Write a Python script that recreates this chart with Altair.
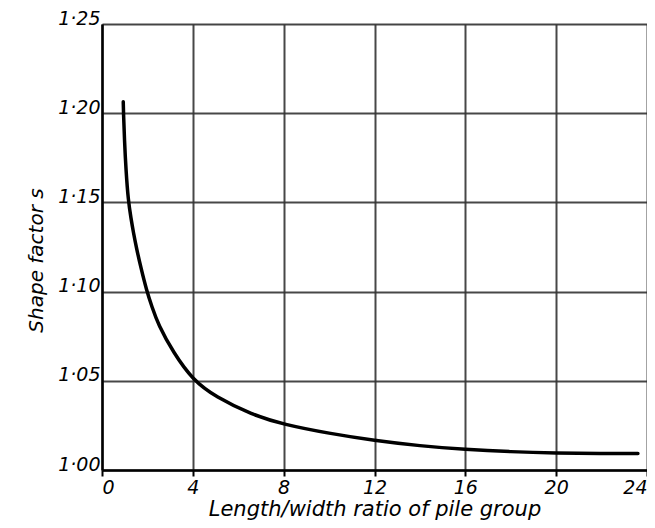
import altair as alt
import pandas as pd

# Curve
ratio = [0.936, 0.945, 0.989, 1.055, 1.156, 1.275, 1.385, 1.525, 1.714, 1.965, 2.198, 2.475,
         3.134, 4.0, 5.0, 6.6, 8.0, 10.0, 12.0, 14.0, 16.0, 18.0, 20.0, 22.0, 23.6]
shape = [1.2064, 1.2007, 1.185, 1.1682, 1.1510, 1.1412, 1.1330, 1.1240, 1.1133, 1.1006, 1.0915, 1.0815,
         1.0660, 1.0504, 1.0410, 1.031, 1.0255, 1.0205, 1.0165, 1.0135, 1.0115, 1.0102, 1.0095, 1.0092, 1.0093]

x_ticks = [0, 4, 8, 12, 16, 20, 24]
y_ticks = [1.00, 1.05, 1.10, 1.15, 1.20, 1.25]

df = pd.DataFrame({"ratio": ratio, "shape": shape})

FONT = "DejaVu Sans"

chart = alt.Chart(df).mark_line(
    color="black", strokeWidth=3.5, interpolate="basis", strokeCap="round"
).encode(
    x=alt.X(
        "ratio:Q",
        scale=alt.Scale(domain=[0, 24], nice=False, zero=False),
        axis=alt.Axis(
            values=x_ticks,
            title="Length/width ratio of pile group",
            titleFontStyle="italic",
            titleFontWeight="normal",
            titleFont=FONT,
            titleFontSize=21,
            titleColor="black",
            titlePadding=1,
            labelFont=FONT,
            labelFontStyle="italic",
            labelFontSize=19,
            labelColor="black",
            labelPadding=2,
            tickSize=6,
            tickColor="black",
            tickWidth=2,
            domainColor="black",
            domainWidth=2.5,
            gridColor="#333333",
            gridWidth=2,
            gridOpacity=0.9,
        ),
    ),
    y=alt.Y(
        "shape:Q",
        scale=alt.Scale(domain=[1.0, 1.25], nice=False, zero=False),
        axis=alt.Axis(
            values=y_ticks,
            title="Shape factor s",
            titleFontStyle="italic",
            titleFontWeight="normal",
            titleFont=FONT,
            titleFontSize=20,
            titleColor="black",
            titleX=-56,
            titleY=236,
            labelFont=FONT,
            labelFontStyle="italic",
            labelFontSize=19,
            labelColor="black",
            labelPadding=2,
            labelBaseline="alphabetic",
            labelExpr="replace(format(datum.value, '.2f'), '.', '·')",
            ticks=False,
            domainColor="black",
            domainWidth=2.5,
            gridColor="#333333",
            gridWidth=2,
            gridOpacity=0.9,
        ),
    ),
).properties(
    width=545,
    height=446,
    autosize=alt.AutoSizeParams(type="none"),
    padding={"left": 94, "top": 16, "right": 0, "bottom": 56},
).configure_view(
    stroke="black", strokeWidth=2.5
).configure(background="white")

chart.save("out.html", embed_options={"renderer": "svg", "actions": False})
